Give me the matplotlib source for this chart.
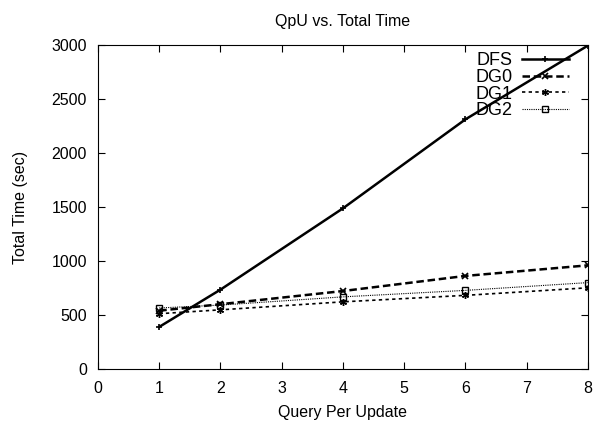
import matplotlib
matplotlib.use("Agg")
import matplotlib.pyplot as plt

plt.rcParams['font.family'] = ['Liberation Sans', 'DejaVu Sans']

qpu = [1, 2, 4, 6, 8]
dfs = [390, 735, 1488, 2312, 2995]
dg0 = [540, 600, 722, 862, 960]
dg1 = [512, 548, 622, 682, 752]
dg2 = [565, 592, 668, 728, 800]

fig = plt.figure(figsize=(5.95, 4.21), dpi=100)
ax = fig.add_axes([0.1647, 0.1235, 0.8235, 0.7696])

ax.plot(qpu, dfs, color='black', lw=1.8, ls='-', marker='+', ms=5, mew=1.2, label='DFS')
ax.plot(qpu, dg0, color='black', lw=1.8, ls=(0, (3, 1.5)), marker='x', ms=5, mew=1.2, label='DG0')
ax.plot(qpu, dg1, color='black', lw=1.2, ls=(0, (2, 2)), marker=(6, 2, 0), ms=5, mew=1.0, label='DG1')
ax.plot(qpu, dg2, color='black', lw=0.8, ls=(0, (1, 1)), marker='s', ms=5, mfc='none', mew=1.0, label='DG2')

ax.set_xlim(0, 8)
ax.set_ylim(0, 3000)
ax.set_xticks(range(0, 9))
ax.set_yticks(range(0, 3001, 500))
ax.tick_params(direction='in', top=True, right=True, length=5, labelsize=11.5)
ax.tick_params(axis='x', pad=8.5)
ax.tick_params(axis='y', pad=8)
ax.set_xlabel('Query Per Update', fontsize=11.5, labelpad=6.5)
ax.set_ylabel('Total Time (sec)', fontsize=11.5, labelpad=17)
ax.set_title('QpU vs. Total Time', fontsize=11.5, pad=14)

ax.legend(loc='upper right', frameon=False, markerfirst=False, fontsize=13,
          handlelength=2.6, handletextpad=0.5, labelspacing=-0.02,
          borderaxespad=0.0, bbox_to_anchor=(0.975, 1.0))

fig.savefig('out.png', dpi=100)
